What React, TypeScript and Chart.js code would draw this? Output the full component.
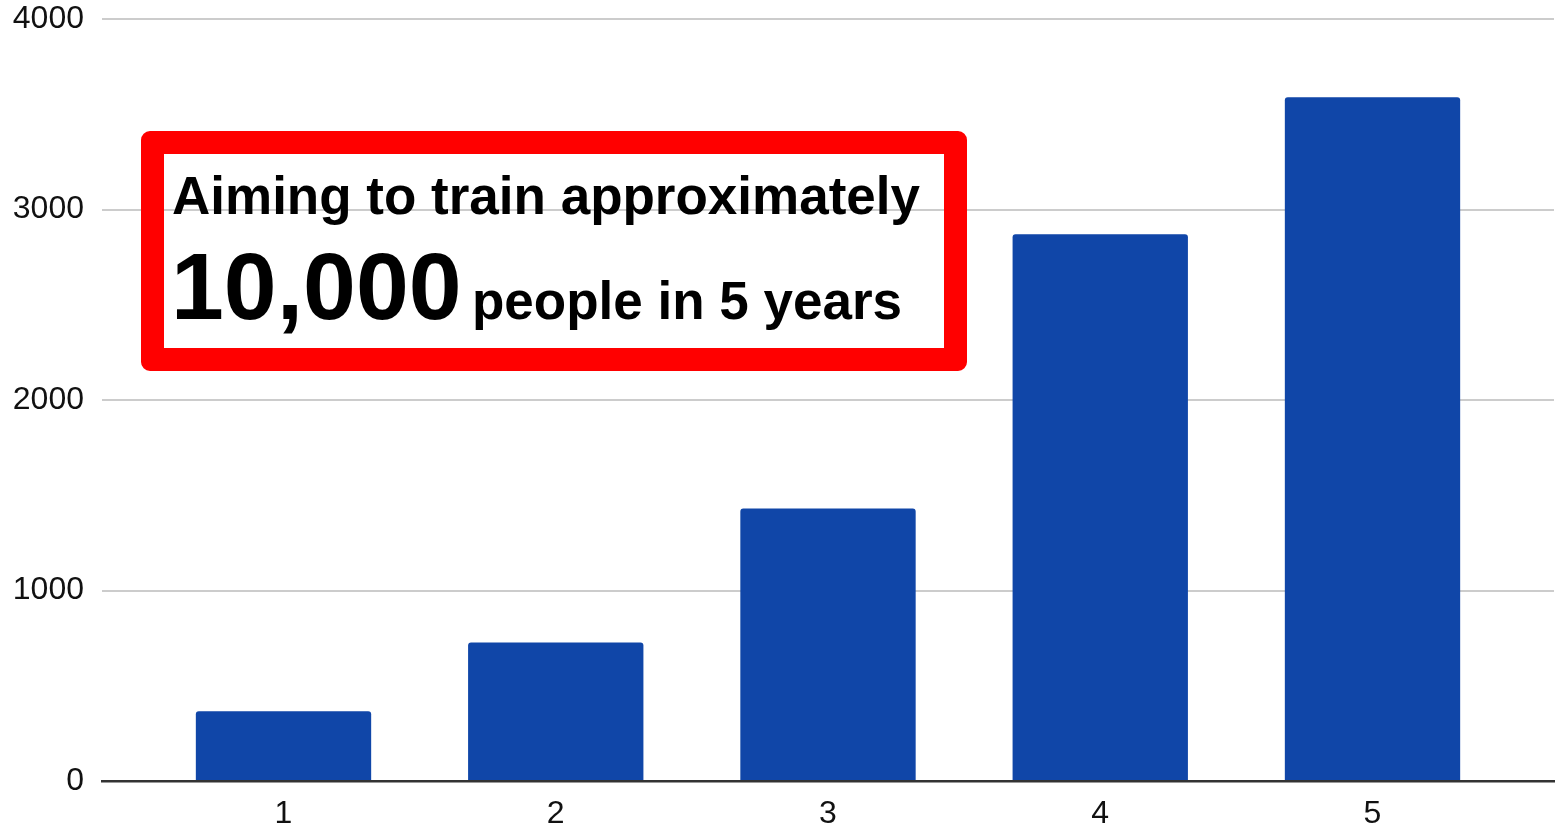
import React, { useEffect, useRef } from "react";
import { Chart, registerables } from "chart.js";

Chart.register(...registerables);

const years: number[] = [1, 2, 3, 4, 5];
const trainees: number[] = [366, 727, 1431, 2870, 3589];
const yTicks: number[] = [0, 1000, 2000, 3000, 4000];
const headline: string = "Aiming to train approximately";
const bigNumber: string = "10,000";
const tail: string = "people in 5 years";

const FONT = "Arial, 'Liberation Sans', Helvetica, sans-serif";

export default function App() {
  const canvasRef = useRef<HTMLCanvasElement | null>(null);

  useEffect(() => {
    const canvas = canvasRef.current;
    if (!canvas) return;
    const chart = new Chart(canvas, {
      type: "bar",
      data: {
        labels: years,
        datasets: [
          {
            data: trainees,
            backgroundColor: "#1046A8",
            borderWidth: 0,
            borderRadius: { topLeft: 3, topRight: 3, bottomLeft: 0, bottomRight: 0 },
            borderSkipped: "start",
            categoryPercentage: 0.8,
            barPercentage: 0.805,
          },
        ],
      },
      options: {
        animation: false,
        responsive: true,
        maintainAspectRatio: false,
        layout: { padding: { left: 0, right: 6, top: 0, bottom: 0 } },
        plugins: {
          legend: { display: false },
          tooltip: { enabled: false },
        },
        scales: {
          x: {
            type: "linear",
            offset: false,
            min: 1 / 3,
            max: 17 / 3,
            afterBuildTicks: (scale: any) => {
              scale.ticks = years.map((v) => ({ value: v }));
            },
            afterFit: (scale: any) => {
              scale.height = 51;
              scale.paddingLeft = 0;
              scale.paddingRight = 0;
            },
            grid: { display: false, drawTicks: false },
            border: { display: true, color: "#333333", width: 2.5 },
            ticks: {
              color: "#111111",
              font: { family: FONT, size: 32 },
              padding: 14,
              maxRotation: 0,
              callback: (v: any) => String(v),
            },
          },
          y: {
            min: 0,
            max: 4000,
            afterBuildTicks: (scale: any) => {
              scale.ticks = yTicks.map((v) => ({ value: v }));
            },
            afterFit: (scale: any) => {
              scale.width = 102;
              scale.paddingTop = 19;
              scale.paddingBottom = 0;
            },
            grid: { color: "#cccccc", lineWidth: 2, drawTicks: false },
            border: { display: false },
            ticks: {
              color: "#111111",
              font: { family: FONT, size: 32 },
              padding: 18,
              callback: (v: any) => String(v),
            },
          },
        },
      },
    });
    return () => chart.destroy();
  }, []);

  return (
    <div
      style={{
        position: "absolute",
        left: 0,
        top: 0,
        width: 1560,
        height: 832,
        background: "#ffffff",
        overflow: "hidden",
      }}
    >
      <canvas ref={canvasRef} />
      <div
        style={{
          position: "absolute",
          left: 141,
          top: 131,
          width: 826,
          height: 240,
          boxSizing: "border-box",
          border: "23px solid #ff0000",
          borderRadius: 9,
          background: "transparent",
        }}
      />
      <span
        style={{
          position: "absolute",
          left: 172,
          top: 169,
          fontFamily: FONT,
          fontWeight: "bold",
          fontSize: 53,
          lineHeight: 1,
          color: "#000000",
          whiteSpace: "nowrap",
        }}
      >
        {headline}
      </span>
      <span
        style={{
          position: "absolute",
          left: 171,
          top: 238.6,
          fontFamily: FONT,
          fontWeight: "bold",
          fontSize: 95,
          lineHeight: 1,
          color: "#000000",
          whiteSpace: "nowrap",
        }}
      >
        {bigNumber}
      </span>
      <span
        style={{
          position: "absolute",
          left: 472,
          top: 273.5,
          fontFamily: FONT,
          fontWeight: "bold",
          fontSize: 53,
          lineHeight: 1,
          color: "#000000",
          whiteSpace: "nowrap",
        }}
      >
        {tail}
      </span>
    </div>
  );
}
